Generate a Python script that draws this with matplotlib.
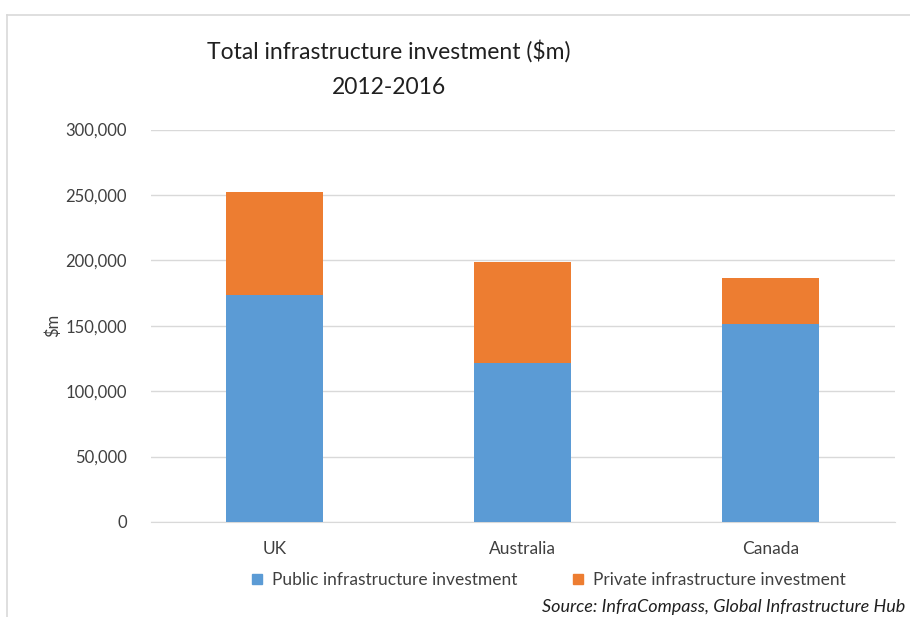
import matplotlib
matplotlib.use("Agg")
import matplotlib.pyplot as plt
from matplotlib.lines import Line2D
from matplotlib.patches import Patch
import numpy as np

categories = ["UK", "Australia", "Canada"]
public = [173300, 121600, 151000]
private = [252200 - 173300, 199000 - 121600, 186200 - 151000]
yticks = [0, 50000, 100000, 150000, 200000, 250000, 300000]

W, H = 910, 617
plt.rcParams['font.family'] = ['Lato', 'DejaVu Sans']
fig = plt.figure(figsize=(W / 100, H / 100), dpi=100)

def fx(px): return px / W
def fy(py): return 1 - py / H

# chart border
fig.add_artist(Line2D([fx(7), 1.0], [fy(15), fy(15)], color="#d9d9d9", lw=1.2))
fig.add_artist(Line2D([fx(7), fx(7)], [fy(15), 0], color="#d9d9d9", lw=1.2))

left, right, top, bottom = 150.5, 894.5, 129.5, 522
ax = fig.add_axes([fx(left), fy(bottom), fx(right) - fx(left), (bottom - top) / H])

x = np.arange(len(categories))
ax.bar(x, public, width=0.39, color="#5b9bd5", zorder=3)
ax.bar(x, private, width=0.39, bottom=public, color="#ed7d31", zorder=3)

ax.set_xlim(-0.5, 2.5)
ax.set_ylim(0, 300000)
ax.set_yticks(yticks)
ax.set_yticklabels([f"{v:,}" for v in yticks], fontsize=12, color="#404040")
ax.set_xticks(x)
ax.set_xticklabels(categories, fontsize=12.5, color="#404040")
ax.tick_params(axis="both", length=0)
ax.tick_params(axis="y", pad=17)
ax.tick_params(axis="x", pad=14)
ax.grid(axis="y", color="#d9d9d9", lw=1, zorder=0)
for s in ["top", "right", "left"]:
    ax.spines[s].set_visible(False)
ax.spines["bottom"].set_color("#d9d9d9")
ax.set_axisbelow(True)

fig.text(fx(53), fy(325), "$m", rotation=90, fontsize=12, color="#404040",
         ha="center", va="center")

fig.text(fx(389), fy(51), "Total infrastructure investment ($m)", fontsize=16.5,
         color="#202020", ha="center", va="center")
fig.text(fx(389), fy(87), "2012-2016", fontsize=16.5,
         color="#202020", ha="center", va="center")

handles = [Patch(color="#5b9bd5"), Patch(color="#ed7d31")]
fig.legend(handles, ["Public infrastructure investment", "Private infrastructure investment"],
           loc="center", bbox_to_anchor=(fx(549), fy(580)), ncol=2, frameon=False,
           fontsize=12.5, handlelength=0.55, handleheight=0.55, handletextpad=0.6,
           columnspacing=3.2, labelcolor="#404040")

fig.text(fx(905), fy(607), "Source: InfraCompass, Global Infrastructure Hub",
         fontsize=13, style="italic", color="#202020", ha="right", va="center")

fig.savefig("out.png", dpi=100)
